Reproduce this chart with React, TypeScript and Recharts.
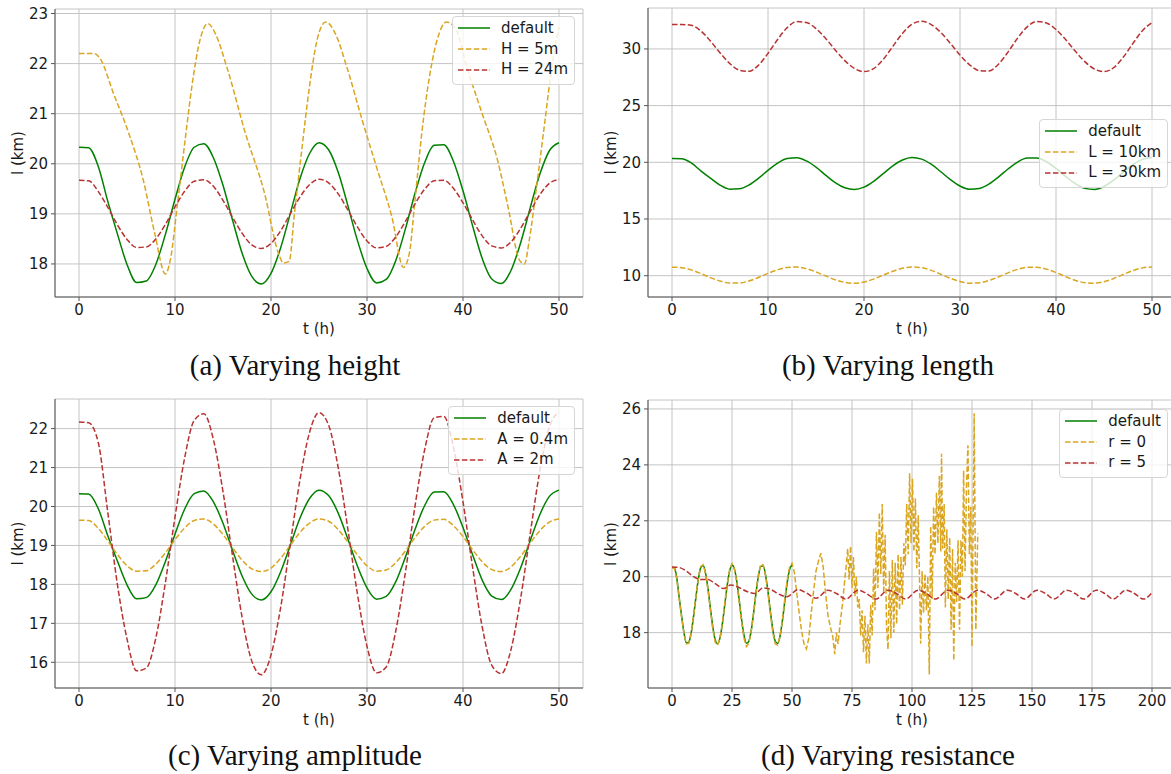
import { LineChart, Line, XAxis, YAxis, CartesianGrid } from 'recharts';

// time axis (hours) shared by the 0-50 h runs
const HOURS = [
  0, 1, 2, 3, 4, 5, 6, 7, 8, 9, 10, 11, 12, 13, 14, 15, 16, 17, 18, 19, 20, 21, 22, 23, 24, 25,
  26, 27, 28, 29, 30, 31, 32, 33, 34, 35, 36, 37, 38, 39, 40, 41, 42, 43, 44, 45, 46, 47, 48, 49, 50,
];

// default run, l (km)
const defaultL = [
  20.33, 20.32, 19.95, 19.25, 18.6, 17.99, 17.63, 17.66, 17.99, 18.59, 19.29, 19.93, 20.33, 20.4,
  20.12, 19.57, 18.87, 18.21, 17.75, 17.6, 17.81, 18.32, 19.0, 19.69, 20.2, 20.42, 20.28, 19.83,
  19.17, 18.47, 17.91, 17.62, 17.69, 18.07, 18.7, 19.41, 20.02, 20.37, 20.38, 20.05, 19.46, 18.76,
  18.11, 17.7, 17.61, 17.87, 18.42, 19.12, 19.79, 20.26, 20.42,
];

// (a) height
const height5T = [
  0, 1.6, 2.2, 3.6, 5.2, 6.7, 7.9, 9.0, 9.5, 10.3, 11.05, 11.8, 12.6, 13.4, 14.2, 15.4, 17.3, 19.3,
  20.8, 21.3, 21.9, 22.4, 23.2, 24.0, 24.8, 25.7, 26.7, 27.9, 29.5, 31.0, 32.6, 33.8, 34.4, 35.0,
  35.7, 36.5, 37.3, 38.3, 39.3, 40.4, 42.0, 43.6, 44.7, 45.9, 46.4, 46.9, 47.7, 48.5, 49.25, 50,
];
const height5L = [
  22.2, 22.2, 22.1, 21.4, 20.6, 19.67, 18.6, 17.8, 18.07, 19.27, 20.47, 21.6, 22.47, 22.8, 22.6,
  21.93, 20.63, 19.43, 18.2, 18.02, 18.05, 18.93, 20.27, 21.53, 22.47, 22.83, 22.6, 21.93, 20.87,
  19.93, 18.93, 17.93, 18.2, 19.27, 20.6, 21.73, 22.47, 22.83, 22.67, 21.93, 21.0, 20.07, 19.13,
  18.07, 18.0, 18.47, 19.6, 20.8, 21.93, 22.73,
];
const height24L = [
  19.67, 19.66, 19.45, 19.13, 18.78, 18.49, 18.33, 18.34, 18.5, 18.79, 19.14, 19.45, 19.65, 19.68,
  19.55, 19.27, 18.93, 18.61, 18.38, 18.31, 18.41, 18.66, 19.0, 19.33, 19.58, 19.69, 19.62, 19.4,
  19.08, 18.74, 18.46, 18.32, 18.35, 18.54, 18.85, 19.2, 19.49, 19.66, 19.67, 19.51, 19.22, 18.88,
  18.56, 18.36, 18.32, 18.44, 18.71, 19.05, 19.38, 19.61, 19.69,
];

// (b) length
const length10L = [
  10.75, 10.71, 10.51, 10.19, 9.83, 9.53, 9.35, 9.35, 9.53, 9.84, 10.2, 10.52, 10.73, 10.76, 10.62,
  10.33, 9.98, 9.64, 9.41, 9.33, 9.44, 9.7, 10.05, 10.39, 10.66, 10.77, 10.7, 10.47, 10.13, 9.77,
  9.49, 9.34, 9.37, 9.57, 9.89, 10.25, 10.56, 10.74, 10.75, 10.58, 10.28, 9.92, 9.59, 9.38, 9.34,
  9.47, 9.75, 10.1, 10.45, 10.69, 10.77,
];
const length30L = [
  32.15, 32.15, 32.09, 31.59, 30.7, 29.66, 28.73, 28.13, 28.03, 28.56, 29.61, 30.83, 31.88, 32.41,
  32.33, 31.79, 30.93, 29.91, 28.97, 28.28, 28.0, 28.26, 29.07, 30.22, 31.36, 32.18, 32.44, 32.15,
  31.45, 30.48, 29.46, 28.6, 28.09, 28.06, 28.65, 29.72, 30.95, 31.95, 32.43, 32.29, 31.71, 30.83,
  29.81, 28.88, 28.23, 28.0, 28.34, 29.26, 30.47, 31.61, 32.32,
];

// (c) amplitude
const amp04L = [
  19.65, 19.64, 19.44, 19.12, 18.77, 18.48, 18.34, 18.35, 18.52, 18.81, 19.15, 19.45, 19.64, 19.68,
  19.55, 19.28, 18.94, 18.62, 18.4, 18.33, 18.42, 18.67, 19.0, 19.33, 19.57, 19.68, 19.62, 19.41,
  19.09, 18.76, 18.48, 18.34, 18.37, 18.56, 18.86, 19.2, 19.49, 19.65, 19.67, 19.51, 19.23, 18.89,
  18.58, 18.38, 18.33, 18.45, 18.72, 19.06, 19.38, 19.6, 19.68,
];
const amp2L = [
  22.17, 22.15, 21.65, 19.85, 18.0, 16.6, 15.78, 15.85, 16.62, 18.05, 19.73, 21.24, 22.21, 22.38,
  21.72, 20.38, 18.72, 17.14, 16.03, 15.68, 16.19, 17.4, 19.03, 20.66, 21.89, 22.41, 22.09, 21.0,
  19.43, 17.76, 16.41, 15.73, 15.88, 16.81, 18.31, 20.01, 21.45, 22.28, 22.31, 21.53, 20.12, 18.44,
  16.91, 15.92, 15.71, 16.33, 17.64, 19.3, 20.91, 22.04, 22.43,
];

// (d) resistance, 0-200 h
const resist0T = [
  0, 1, 2, 3, 4, 5, 6, 7, 8, 9, 10, 11, 12, 13, 14, 15, 16, 17, 18, 19, 20, 21, 22, 23, 24, 25, 26,
  27, 28, 29, 30, 31, 32, 33, 34, 35, 36, 37, 38, 39, 40, 41, 42, 43, 44, 45, 46, 47, 48, 49, 50,
  51, 52, 53, 54, 55, 56, 57, 58, 59, 60, 61, 62, 63, 64, 65, 66, 67, 67.8, 68.5, 69.2, 70, 71, 72,
  72.6, 73.2, 73.8, 74.4, 75.0, 75.6, 76.2, 76.8, 77.4, 78.0, 78.6, 79.2, 79.8, 80.4, 81.0, 81.6,
  82.2, 82.8, 83.4, 84.0, 84.6, 85.2, 85.8, 86.4, 87.0, 87.6, 88.2, 88.8, 89.4, 90.0, 90.6, 91.2,
  91.8, 92.4, 93.0, 93.6, 94.2, 94.8, 95.4, 96.0, 96.6, 97.2, 97.8, 98.4, 99.0, 99.6, 100.2, 100.8,
  101.4, 102.0, 102.6, 103.2, 103.6, 104.2, 104.8, 105.4, 106.0, 106.6, 107.2, 107.8, 108.4, 109.0,
  109.6, 110.2, 110.8, 111.4, 112.0, 112.3, 112.8, 113.4, 113.9, 114.5, 115.1, 115.7, 116.3, 116.9,
  117.4, 118.0, 118.6, 119.2, 119.8, 120.4, 121.0, 121.5, 122.1, 122.7, 123.3, 123.9, 124.5, 125.0,
  125.9, 126.6, 127.4,
];
const resist0L = [
  20.33, 20.3, 19.9, 19.2, 18.55, 17.95, 17.6, 17.62, 18.0, 18.62, 19.33, 19.98, 20.37, 20.43, 20.1,
  19.52, 18.8, 18.12, 17.66, 17.55, 17.8, 18.34, 19.05, 19.75, 20.25, 20.47, 20.28, 19.8, 19.1,
  18.38, 17.8, 17.5, 17.62, 18.05, 18.72, 19.45, 20.08, 20.45, 20.42, 20.05, 19.42, 18.68, 18.0,
  17.6, 17.55, 17.85, 18.45, 19.2, 19.88, 20.35, 20.48,
  20.15, 19.4, 18.7, 18.05, 17.6, 17.42, 17.8, 18.7, 19.5, 20.2, 20.55, 20.84, 20.35, 19.4, 18.6,
  18.2, 17.85, 17.23, 18.0, 17.6, 18.3, 19.0, 19.9, 20.4,
  21.0, 19.9, 21.1, 19.6, 20.7, 19.3, 20.0, 18.9, 19.2, 17.9, 18.8, 17.3, 18.6, 16.9, 18.3, 16.9,
  19.0, 17.9, 20.3, 18.8, 21.6, 19.6, 22.3, 20.1, 22.6, 19.4, 21.5, 18.2, 17.4, 20.2, 17.8, 20.6,
  18.0, 20.5, 18.3, 20.8, 18.8, 20.7, 19.0, 21.2, 20.4, 22.6, 20.8, 23.7, 21.2, 23.5, 20.9, 22.8,
  20.3, 22.2, 19.6, 17.6, 20.2, 18.7, 20.1, 18.8, 20.0, 16.5, 21.8, 19.2, 22.5, 20.8, 23.0, 21.2,
  23.6, 20.9, 24.4, 21.0, 22.6, 18.9, 21.7, 19.2, 21.4, 18.1, 21.0, 17.0, 20.5, 19.1, 21.3, 18.1,
  21.3, 20.0, 23.8, 20.2, 23.2, 24.7, 20.8, 22.5, 17.5, 25.85, 18.1, 21.55,
];
const resist5T = [
  0, 3, 6, 9, 12, 15, 18, 21.5, 24.5, 27.5, 31, 34.5, 38, 41, 44.5, 47.8, 52.5, 56, 60, 65, 68.5,
  72.5, 77.5, 81, 85, 90, 93.5, 97.3, 102.5, 106, 109.7, 115, 118.5, 122, 127.3, 130.8, 134.4,
  139.7, 143.2, 146.8, 152.1, 155.6, 159.2, 164.5, 168, 171.5, 176.8, 180.3, 183.8, 189.2, 192.7,
  196.4, 200,
];
const resist5L = [
  20.35, 20.33, 20.2, 20.0, 19.9, 19.9, 19.75, 19.58, 19.7, 19.63, 19.48, 19.4, 19.6, 19.55, 19.38,
  19.28, 19.54, 19.42, 19.23, 19.52, 19.4, 19.2, 19.52, 19.4, 19.2, 19.52, 19.4, 19.2, 19.52, 19.4,
  19.2, 19.52, 19.4, 19.2, 19.52, 19.4, 19.2, 19.52, 19.4, 19.2, 19.52, 19.4, 19.2, 19.52, 19.4,
  19.2, 19.52, 19.4, 19.2, 19.52, 19.4, 19.2, 19.43,
];

const GREEN = '#008000';
const GOLD = '#DAA520';
const RED = '#B83232';
const DASH = '5.5 2.4';
const TEXT = '#1a1a1a';

type Pt = { t: number; v: number };
const zip = (ts: number[], vs: number[]): Pt[] => ts.map((t, i) => ({ t, v: vs[i] }));

interface Series {
  name: string;
  color: string;
  dashed?: boolean;
  curve?: 'monotone' | 'linear';
  data: Pt[];
}

interface PanelProps {
  left: number;
  top: number;
  width: number;
  height: number;
  marginTop: number;
  marginRight: number;
  yAxisWidth: number;
  yLabelOffset: number;
  xDomain: [number, number];
  xTicks: number[];
  yDomain: [number, number];
  yTicks: number[];
  series: Series[];
  legendTop: number;
  legendRight: number;
}

function LegendBox({ series, top, right }: { series: Series[]; top: number; right: number }) {
  return (
    <div
      style={{
        position: 'absolute',
        top,
        right,
        background: 'rgba(255,255,255,0.8)',
        border: '1px solid #d6d6d6',
        borderRadius: 4,
        padding: '1px 6px 4px 5px',
        fontSize: 15,
        lineHeight: '20.7px',
        color: TEXT,
        whiteSpace: 'nowrap',
      }}
    >
      {series.map((s) => (
        <div key={s.name} style={{ display: 'flex', alignItems: 'center' }}>
          <svg width={32} height={6} style={{ marginRight: 11 }}>
            <line
              x1={0}
              y1={3}
              x2={32}
              y2={3}
              stroke={s.color}
              strokeWidth={1.5}
              strokeDasharray={s.dashed ? DASH : undefined}
            />
          </svg>
          <span>{s.name}</span>
        </div>
      ))}
    </div>
  );
}

function Panel(p: PanelProps) {
  const tickStyle = { fontSize: 15, fill: TEXT };
  return (
    <div style={{ position: 'absolute', left: p.left, top: p.top, width: p.width, height: p.height }}>
      <LineChart
        width={p.width}
        height={p.height}
        margin={{ top: p.marginTop, right: p.marginRight, bottom: 0, left: 0 }}
      >
        <CartesianGrid stroke="#c4c4c4" strokeWidth={1} />
        <XAxis
          type="number"
          dataKey="t"
          domain={p.xDomain}
          ticks={p.xTicks}
          interval={0}
          allowDataOverflow
          height={40}
          tick={tickStyle}
          tickSize={4}
          tickMargin={3}
          axisLine={{ stroke: '#555' }}
          tickLine={{ stroke: '#555' }}
          label={{ value: 't (h)', position: 'insideBottom', offset: 3, style: { fontSize: 15, fill: TEXT } }}
        />
        <YAxis
          type="number"
          domain={p.yDomain}
          ticks={p.yTicks}
          interval={0}
          allowDataOverflow
          width={p.yAxisWidth}
          tick={tickStyle}
          tickSize={4}
          tickMargin={3}
          axisLine={{ stroke: '#555' }}
          tickLine={{ stroke: '#555' }}
          label={{
            value: 'l (km)',
            angle: -90,
            position: 'insideLeft',
            offset: p.yLabelOffset,
            style: { textAnchor: 'middle', fontSize: 15, fill: TEXT },
          }}
        />
        {p.series.map((s) => (
          <Line
            key={s.name}
            data={s.data}
            dataKey="v"
            type={s.curve ?? 'monotone'}
            stroke={s.color}
            strokeWidth={1.5}
            strokeDasharray={s.dashed ? DASH : undefined}
            dot={false}
            activeDot={false}
            isAnimationActive={false}
          />
        ))}
      </LineChart>
      <LegendBox series={p.series} top={p.legendTop} right={p.legendRight} />
    </div>
  );
}

function Caption({ left, top, text }: { left: number; top: number; text: string }) {
  return (
    <div
      style={{
        position: 'absolute',
        left,
        top,
        width: 600,
        textAlign: 'center',
        fontFamily: '"Liberation Serif", serif',
        fontSize: 29,
        lineHeight: '30px',
        color: '#111',
      }}
    >
      {text}
    </div>
  );
}

export default function App() {
  const defaultData = zip(HOURS, defaultL);
  const shortX: [number, number] = [-2.5, 52.5];
  const shortTicks = [0, 10, 20, 30, 40, 50];

  return (
    <div
      style={{
        position: 'absolute',
        left: 0,
        top: 0,
        width: 1171,
        height: 774,
        overflow: 'hidden',
        background: '#fff',
        fontFamily: '"DejaVu Sans", sans-serif',
      }}
    >
      <Panel
        left={0}
        top={0}
        width={590}
        height={337}
        marginTop={9}
        marginRight={7}
        yAxisWidth={55}
        yLabelOffset={18}
        xDomain={shortX}
        xTicks={shortTicks}
        yDomain={[17.34, 23.09]}
        yTicks={[18, 19, 20, 21, 22, 23]}
        legendTop={16}
        legendRight={15}
        series={[
          { name: 'default', color: GREEN, data: defaultData },
          { name: 'H = 5m', color: GOLD, dashed: true, data: zip(height5T, height5L) },
          { name: 'H = 24m', color: RED, dashed: true, data: zip(HOURS, height24L) },
        ]}
      />
      <Panel
        left={590}
        top={0}
        width={586}
        height={337}
        marginTop={8}
        marginRight={0}
        yAxisWidth={58}
        yLabelOffset={21}
        xDomain={shortX}
        xTicks={shortTicks}
        yDomain={[8.12, 33.61]}
        yTicks={[10, 15, 20, 25, 30]}
        legendTop={119}
        legendRight={8}
        series={[
          { name: 'default', color: GREEN, data: defaultData },
          { name: 'L = 10km', color: GOLD, dashed: true, data: zip(HOURS, length10L) },
          { name: 'L = 30km', color: RED, dashed: true, data: zip(HOURS, length30L) },
        ]}
      />
      <Panel
        left={0}
        top={390}
        width={590}
        height={338}
        marginTop={9}
        marginRight={7}
        yAxisWidth={55}
        yLabelOffset={18}
        xDomain={shortX}
        xTicks={shortTicks}
        yDomain={[15.34, 22.76]}
        yTicks={[16, 17, 18, 19, 20, 21, 22]}
        legendTop={16}
        legendRight={15}
        series={[
          { name: 'default', color: GREEN, data: defaultData },
          { name: 'A = 0.4m', color: GOLD, dashed: true, data: zip(HOURS, amp04L) },
          { name: 'A = 2m', color: RED, dashed: true, data: zip(HOURS, amp2L) },
        ]}
      />
      <Panel
        left={590}
        top={390}
        width={586}
        height={338}
        marginTop={10}
        marginRight={0}
        yAxisWidth={58}
        yLabelOffset={21}
        xDomain={[-10, 210]}
        xTicks={[0, 25, 50, 75, 100, 125, 150, 175, 200]}
        yDomain={[16.02, 26.32]}
        yTicks={[18, 20, 22, 24, 26]}
        legendTop={19}
        legendRight={8}
        series={[
          { name: 'default', color: GREEN, data: defaultData },
          { name: 'r = 0', color: GOLD, dashed: true, curve: 'linear', data: zip(resist0T, resist0L) },
          { name: 'r = 5', color: RED, dashed: true, data: zip(resist5T, resist5L) },
        ]}
      />
      <Caption left={-5} top={350} text="(a) Varying height" />
      <Caption left={588} top={350} text="(b) Varying length" />
      <Caption left={-5} top={740} text="(c) Varying amplitude" />
      <Caption left={588} top={740} text="(d) Varying resistance" />
    </div>
  );
}
